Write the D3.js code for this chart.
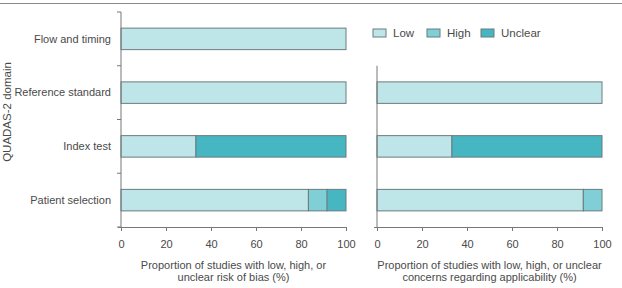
<!DOCTYPE html>
<html>
<head>
<meta charset="utf-8">
<script src="https://cdn.jsdelivr.net/npm/d3@7"></script>
<style>
  body { margin: 0; background: #fff; }
  svg text { font-family: "Liberation Sans Narrow", "Liberation Sans", sans-serif; fill: #4a4a4a; }
</style>
</head>
<body>
<div id="chart"></div>
<script>
// QUADAS-2 domains (top to bottom)
const domains = ["Flow and timing", "Reference standard", "Index test", "Patient selection"];
const categories = ["Low", "High", "Unclear"];
const colors = ["#bee5e8", "#80cfd6", "#45b6c2"];

// risk of bias (%)
const biasLow     = [100, 100, 33.3, 83.3];
const biasHigh    = [0, 0, 0, 8.3];
const biasUnclear = [0, 0, 66.7, 8.4];

// applicability concerns (%), no value for Flow and timing
const applDomains = ["Reference standard", "Index test", "Patient selection"];
const applLow     = [100, 33.3, 91.7];
const applHigh    = [0, 0, 8.3];
const applUnclear = [0, 66.7, 0];

const xTicks = [0, 20, 40, 60, 80, 100];

const W = 622, H = 288;
const svg = d3.select("#chart").append("svg")
    .attr("width", W)
    .attr("height", H);

// top rule
svg.append("line")
    .attr("x1", 0).attr("x2", W)
    .attr("y1", 3.5).attr("y2", 3.5)
    .attr("stroke", "#8a8a8a")
    .attr("stroke-width", 1.2);

const y = d3.scaleBand()
    .domain(domains)
    .range([12, 227])
    .padding(0);

const barH = y.bandwidth() * 0.4;

function stackRows(names, low, high, unclear) {
    return names.map((n, i) => ({name: n, values: [low[i], high[i], unclear[i]]}));
}

function drawPanel(x0, rows, showTicks, axisTop, titleLines) {
    let x = d3.scaleLinear().domain([0, 100]).range([x0, x0 + 225]);
    let g = svg.append("g");

    // bars
    rows.forEach(r => {
        let start = 0;
        r.values.forEach((v, k) => {
            if (v > 0) {
                g.append("rect")
                    .attr("x", x(start))
                    .attr("y", y(r.name) + (y.bandwidth() - barH) / 2)
                    .attr("width", x(start + v) - x(start))
                    .attr("height", barH)
                    .attr("fill", colors[k])
                    .attr("stroke", "#6b7c7f")
                    .attr("stroke-width", 1);
            }
            start += v;
        });
    });

    // y axis line
    g.append("line")
        .attr("x1", x0).attr("x2", x0)
        .attr("y1", axisTop).attr("y2", y.range()[1])
        .attr("stroke", "#777");

    if (showTicks) {
        let edges = domains.map(d => y(d)).concat([y.range()[1]]);
        g.selectAll(".ytick").data(edges).enter().append("line")
            .attr("x1", x0 - 4).attr("x2", x0)
            .attr("y1", d => d).attr("y2", d => d)
            .attr("stroke", "#777");

        g.selectAll(".ylab").data(domains).enter().append("text")
            .attr("x", x0 - 10)
            .attr("y", d => y(d) + y.bandwidth() / 2)
            .attr("dy", "0.35em")
            .attr("text-anchor", "end")
            .attr("font-size", "11px")
            .text(d => d);
    }

    // x axis
    let xAxis = d3.axisBottom(x).tickValues(xTicks).tickSize(4).tickSizeOuter(0);
    let ax = g.append("g")
        .attr("transform", "translate(0," + y.range()[1] + ")")
        .call(xAxis);
    ax.select(".domain").attr("stroke", "#777").attr("d", "M" + (x0 - 3) + ",0.5H" + (x0 + 225));
    ax.selectAll(".tick line").attr("stroke", "#777");
    ax.selectAll(".tick text")
        .attr("y", 13)
        .attr("font-size", "11px")
        .attr("font-family", null)
        .attr("fill", null);

    // axis title
    titleLines.forEach((t, i) => {
        g.append("text")
            .attr("x", x0 + 112.5)
            .attr("y", 269 + i * 12)
            .attr("text-anchor", "middle")
            .attr("font-size", "11px")
            .text(t);
    });
}

drawPanel(121, stackRows(domains, biasLow, biasHigh, biasUnclear), true, 12,
    ["Proportion of studies with low, high, or", "unclear risk of bias (%)"]);

drawPanel(377, stackRows(applDomains, applLow, applHigh, applUnclear), false, y("Reference standard"),
    ["Proportion of studies with low, high, or unclear", "concerns regarding applicability (%)"]);

// y axis title
svg.append("text")
    .attr("transform", "translate(10.5,112) rotate(-90)")
    .attr("text-anchor", "middle")
    .attr("font-size", "11.5px")
    .text("QUADAS-2 domain");

// legend
const legendX = [373, 427, 481];
const legend = svg.append("g");
categories.forEach((c, i) => {
    legend.append("rect")
        .attr("x", legendX[i]).attr("y", 29)
        .attr("width", 13).attr("height", 8)
        .attr("fill", colors[i])
        .attr("stroke", "#6b7c7f");
    legend.append("text")
        .attr("x", legendX[i] + 20)
        .attr("y", 33)
        .attr("dy", "0.35em")
        .attr("font-size", "11.5px")
        .text(c);
});
</script>
</body>
</html>
